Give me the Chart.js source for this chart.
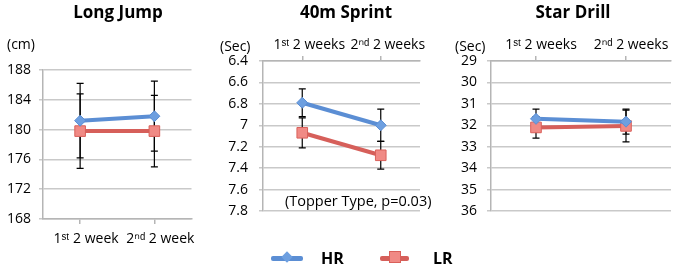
<!DOCTYPE html>
<html>
<head>
<meta charset="utf-8">
<script src="https://cdn.jsdelivr.net/npm/chart.js@4"></script>
<style>
    body { margin: 0; background: #fff; font-family: 'Open Sans', sans-serif; }
    #page { position: relative; width: 685px; height: 271px; overflow: hidden; }
    .box { position: absolute; top: 0; height: 271px; }
    .title { position: absolute; top: 0; font-weight: bold; font-size: 17px; transform: translateX(-50%); white-space: nowrap; color: #000; }
    .unit { position: absolute; font-size: 14px; color: #000; white-space: nowrap; }
    .note { position: absolute; font-size: 14.5px; color: #000; white-space: nowrap; }
    .legline { position: absolute; height: 5px; border-radius: 2px; }
    .legtext { position: absolute; font-weight: bold; font-size: 16px; }
</style>
</head>
<body>
<div id="page">
    <div class="box" style="left:0;width:200px"><canvas id="jumpChart"></canvas></div>
    <div class="box" style="left:205px;width:225px"><canvas id="sprintChart"></canvas></div>
    <div class="box" style="left:440px;width:240px"><canvas id="starChart"></canvas></div>

    <div class="title" style="left:118px">Long Jump</div>
    <div class="title" style="left:346px">40m Sprint</div>
    <div class="title" style="left:573px">Star Drill</div>

    <div class="unit" style="left:7px;top:34px">(cm)</div>
    <div class="unit" style="left:220px;top:36px">(Sec)</div>
    <div class="unit" style="left:455px;top:36px">(Sec)</div>

    <div class="note" style="left:285px;top:191px">(Topper Type, p=0.03)</div>

    <!-- legend -->
    <div class="legline" style="left:271px;top:256px;width:32px;background:#5b8ed4"></div>
    <div style="position:absolute;left:283px;top:253px;width:8px;height:8px;background:#6d9fe0;transform:rotate(45deg)"></div>
    <div class="legtext" style="left:321px;top:247px">HR</div>
    <div class="legline" style="left:380px;top:256px;width:29px;background:#d65f5a"></div>
    <div style="position:absolute;left:389px;top:251px;width:12px;height:12px;background:#f08a85;border:1px solid #d9605a;box-sizing:border-box"></div>
    <div class="legtext" style="left:433px;top:247px">LR</div>
</div>

<script>
// Categories
const jumpLabels = ['1ˢᵗ 2 week', '2ⁿᵈ 2 week'];
const weekLabels = ['1ˢᵗ 2 weeks', '2ⁿᵈ 2 weeks'];

// Long Jump (cm)
const jumpHR = [181.2, 181.8];
const jumpHRErr = [5.0, 4.7];
const jumpLR = [179.8, 179.8];
const jumpLRErr = [5.0, 4.8];

// 40m Sprint (sec)
const sprintHR = [6.79, 7.0];
const sprintHRErr = [0.13, 0.15];
const sprintLR = [7.07, 7.28];
const sprintLRErr = [0.14, 0.13];

// Star Drill (sec)
const starHR = [31.7, 31.83];
const starHRErr = [0.45, 0.58];
const starLR = [32.1, 32.03];
const starLRErr = [0.5, 0.74];

const HR_LINE = '#5b8ed4';
const LR_LINE = '#d65f5a';
const GRID = '#c9c9c9';
const FONT = "'Open Sans', sans-serif";

// draws +/- error bars for every dataset that has an `errors` array
const errorBarPlugin = {
    id: 'errorBars',
    beforeDatasetsDraw(chart) {
        const ctx = chart.ctx;
        const y = chart.scales.y;
        ctx.save();
        ctx.strokeStyle = '#000';
        ctx.lineWidth = 1.2;
        chart.data.datasets.forEach((ds, di) => {
            if (!ds.errors) return;
            const meta = chart.getDatasetMeta(di);
            ds.data.forEach((v, i) => {
                const px = meta.data[i].x;
                const y1 = y.getPixelForValue(v - ds.errors[i]);
                const y2 = y.getPixelForValue(v + ds.errors[i]);
                ctx.beginPath();
                ctx.moveTo(px, y1); ctx.lineTo(px, y2);
                ctx.moveTo(px - 3.5, y1); ctx.lineTo(px + 3.5, y1);
                ctx.moveTo(px - 3.5, y2); ctx.lineTo(px + 3.5, y2);
                ctx.stroke();
            });
        });
        ctx.restore();
    }
};

function makeDatasets(hr, hrErr, lr, lrErr) {
    return [
        {
            label: 'HR', data: hr, errors: hrErr,
            borderColor: HR_LINE, borderWidth: 4,
            pointStyle: 'rectRot', pointRadius: 5.5,
            pointBackgroundColor: '#6d9fe0', pointBorderColor: '#5b8ed4', pointBorderWidth: 1
        },
        {
            label: 'LR', data: lr, errors: lrErr,
            borderColor: LR_LINE, borderWidth: 4,
            pointStyle: 'rect', pointRadius: 7.5,
            pointBackgroundColor: '#f08a85', pointBorderColor: '#d9605a', pointBorderWidth: 1
        }
    ];
}

function makeChart(id, cfg) {
    const ctx = document.getElementById(id).getContext('2d');
    return new Chart(ctx, {
        type: 'line',
        data: { labels: cfg.labels, datasets: cfg.datasets },
        plugins: [errorBarPlugin],
        options: {
            responsive: true,
            maintainAspectRatio: false,
            animation: false,
            layout: { padding: cfg.padding },
            plugins: { legend: { display: false }, tooltip: { enabled: false } },
            scales: {
                x: {
                    position: cfg.xPos,
                    offset: true,
                    afterFit: (s) => { s.height = cfg.xHeight; },
                    border: { color: '#b5b5b5', width: 1.5 },
                    grid: { drawOnChartArea: false, tickLength: 5, color: '#b5b5b5', lineWidth: 1.5 },
                    ticks: {
                        color: '#000', padding: cfg.xPad, maxRotation: 0, autoSkip: false,
                        labelOffset: cfg.xShift,
                        font: { family: FONT, size: 14 }
                    }
                },
                y: {
                    min: cfg.min, max: cfg.max, reverse: cfg.reverse,
                    afterFit: (s) => { s.width = cfg.yWidth; },
                    border: { color: '#b5b5b5', width: 1.5 },
                    grid: { color: GRID, lineWidth: 1.5, tickLength: 4 },
                    ticks: {
                        stepSize: cfg.step, color: '#000', padding: cfg.yPad,
                        font: { family: FONT, size: 14 },
                        callback: (v) => String(Number(v.toFixed(1)))
                    }
                }
            }
        }
    });
}

makeChart('jumpChart', {
    labels: jumpLabels,
    datasets: makeDatasets(jumpHR, jumpHRErr, jumpLR, jumpLRErr),
    padding: { top: 70, right: 8, left: 0, bottom: 0 },
    xPos: 'bottom', xHeight: 52, xPad: 7, xShift: 6,
    yWidth: 43, yPad: 8,
    min: 168, max: 188, step: 4, reverse: false
});

makeChart('sprintChart', {
    labels: weekLabels,
    datasets: makeDatasets(sprintHR, sprintHRErr, sprintLR, sprintLRErr),
    padding: { top: 0, right: 10, left: 0, bottom: 60 },
    xPos: 'top', xHeight: 61, xPad: 3, xShift: 7,
    yWidth: 58, yPad: 11,
    min: 6.4, max: 7.8, step: 0.2, reverse: true
});

makeChart('starChart', {
    labels: weekLabels,
    datasets: makeDatasets(starHR, starHRErr, starLR, starLRErr),
    padding: { top: 0, right: 9, left: 0, bottom: 60 },
    xPos: 'top', xHeight: 61, xPad: 3, xShift: 5,
    yWidth: 51, yPad: 10,
    min: 29, max: 36, step: 1, reverse: true
});
</script>
</body>
</html>
